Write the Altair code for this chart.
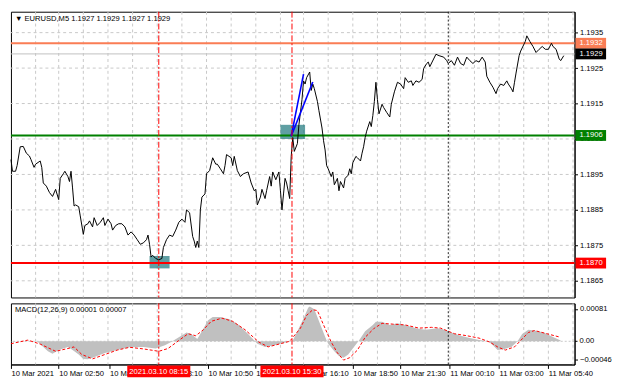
import altair as alt
import pandas as pd

# ---------------- data ----------------
price_bar = [0,1,3,4,6,8,10,12,13,15,16,19,20,21,23,25,27,29,31,32,34,35,37,38,39,40,41,42,44,45,47,48,50,51,53,54,56,58,60,61,63,65,66,68,70,72,74,76,78,80,82,84,86,88,89,90,91,92,94,96,98,99,101,103,105,107,109,111,113,114,116,118,119,120,121,122,123,124,126,127,129,131,133,134,136,138,139,140,143,144,145,147,149,151,154,156,158,159,160,162,163,165,166,168,169,170,172,174,175,176,177,178,179,180,181,182,183,184,186,187,189,190,191,192,194,195,196,197,199,200,202,203,204,205,206,208,209,210,212,213,214,216,217,219,220,221,222,224,225,227,228,229,230,231,233,234,235,236,237,238,239,241,242,244,246,247,249,251,253,255,256,258,260,261,263,265,267,268,270,271,272,276,278,281,283,284,286,288,290,292,294,296,298,300,302,304,306,308,309,311,313,315,316,318,320,322,323,325,326,327,328,330,331,334,335,337,339,341,343,345,347,349,351,352,354,356,357,359]
price_val = [1.18992,1.18959,1.18959,1.18975,1.19028,1.19029,1.19010,1.19002,1.18992,1.18970,1.18979,1.18988,1.18970,1.18926,1.18917,1.18899,1.18888,1.18908,1.18879,1.18939,1.18952,1.18959,1.18944,1.18930,1.18959,1.18912,1.18861,1.18864,1.18859,1.18833,1.18781,1.18806,1.18811,1.18819,1.18802,1.18828,1.18806,1.18815,1.18828,1.18806,1.18824,1.18811,1.18793,1.18806,1.18811,1.18811,1.18802,1.18779,1.18788,1.18779,1.18766,1.18753,1.18757,1.18766,1.18779,1.18753,1.18717,1.18722,1.18713,1.18709,1.18713,1.18744,1.18766,1.18779,1.18775,1.18793,1.18815,1.18824,1.18815,1.18850,1.18842,1.18775,1.18762,1.18744,1.18762,1.18744,1.18850,1.18886,1.18895,1.18952,1.18961,1.18997,1.18979,1.18979,1.18966,1.18952,1.18975,1.19006,1.18997,1.18975,1.19001,1.18961,1.18944,1.18952,1.18957,1.18926,1.18904,1.18908,1.18864,1.18886,1.18908,1.18882,1.18904,1.18944,1.18917,1.18957,1.18935,1.18957,1.18904,1.18850,1.18895,1.18939,1.18926,1.18904,1.18882,1.19001,1.19054,1.19015,1.19037,1.19090,1.19161,1.19214,1.19205,1.19223,1.19239,1.19187,1.19205,1.19192,1.19156,1.19130,1.19081,1.19045,1.19019,1.18975,1.18966,1.18944,1.18957,1.18921,1.18939,1.18904,1.18930,1.18912,1.18939,1.18948,1.18966,1.18952,1.18983,1.19001,1.18997,1.18988,1.19010,1.19028,1.19054,1.19072,1.19099,1.19085,1.19116,1.19156,1.19210,1.19161,1.19121,1.19148,1.19139,1.19125,1.19112,1.19148,1.19183,1.19210,1.19205,1.19192,1.19223,1.19210,1.19214,1.19201,1.19214,1.19210,1.19218,1.19249,1.19263,1.19267,1.19254,1.19289,1.19285,1.19281,1.19271,1.19263,1.19271,1.19258,1.19281,1.19263,1.19258,1.19281,1.19271,1.19263,1.19271,1.19267,1.19281,1.19267,1.19227,1.19210,1.19196,1.19178,1.19192,1.19205,1.19201,1.19214,1.19205,1.19192,1.19183,1.19210,1.19236,1.19285,1.19298,1.19325,1.19341,1.19325,1.19311,1.19294,1.19303,1.19311,1.19303,1.19303,1.19320,1.19311,1.19303,1.19276,1.19271,1.19285]

hist_bar = [0,17,21,24,27,31,37,40,44,47,50,53,61,69,77,86,94,100,104,109,114,117,121,124,128,131,136,142,148,154,160,165,171,177,183,186,190,193,194,197,201,205,206,210,213,216,219,222,226,230,235,237,241,246,251,256,263,269,277,282,286,292,298,304,310,313,316,320,325,329,332,336,340,346,352,357]
hist_val = [0.00001,0.0,-0.00014,-0.00025,-0.00031,-0.00022,-0.00014,-0.00022,-0.00033,-0.00044,-0.00045,-0.00041,-0.00029,-0.00022,-0.00015,-0.00014,-0.00018,-0.00010,-0.00002,0.00010,0.00022,0.00018,0.00006,0.00025,0.00053,0.00061,0.00061,0.00055,0.00041,0.00018,-0.00006,-0.00014,-0.00010,-0.00004,0.00002,0.00025,0.00057,0.00084,0.00087,0.00080,0.00041,0.00002,-0.00006,-0.00025,-0.00037,-0.00041,-0.00033,-0.00018,0.00002,0.00025,0.00041,0.00049,0.00049,0.00041,0.00045,0.00041,0.00033,0.00029,0.00033,0.00029,0.00022,0.00014,0.00008,0.00003,0.0,-0.00010,-0.00022,-0.00020,-0.00014,0.0,0.00018,0.00029,0.00027,0.00022,0.00011,0.00002]

sig_bar = [0,11,19,29,37,41,46,53,61,69,77,86,96,102,109,115,120,125,130,137,144,152,161,167,175,181,188,192,196,199,203,208,212,216,220,225,230,236,241,248,256,265,273,279,288,296,304,311,316,321,327,332,336,340,348,356]
sig_val = [-0.00006,0.00003,-0.00007,-0.00025,-0.00018,-0.00014,-0.00033,-0.00044,-0.00033,-0.00022,-0.00015,-0.00019,-0.00025,-0.00018,0.00002,0.00019,0.00014,0.00029,0.00050,0.00058,0.00050,0.00029,-0.00002,-0.00014,-0.00006,0.0,0.00033,0.00065,0.00079,0.00077,0.00041,-0.00002,-0.00029,-0.00047,-0.00041,-0.00022,0.00010,0.00033,0.00045,0.00043,0.00041,0.00033,0.00035,0.00033,0.00019,0.00014,0.00008,-0.00002,-0.00014,-0.00022,-0.00014,0.00006,0.00022,0.00027,0.00019,0.00011]

tick_bar = [0, 31, 64, 95, 128, 159, 190, 222, 253, 285, 317, 349]
tick_label = ["10 Mar 2021", "10 Mar 02:50", "10 Mar 05:30", "10 Mar 08:10", "10 Mar 10:50",
              "10 Mar 13:30", "10 Mar 16:10", "10 Mar 18:50", "10 Mar 21:30", "11 Mar 00:10",
              "11 Mar 03:00", "11 Mar 05:40"]
grid_bar = [16, 31, 47, 63, 79, 95, 111, 127, 143, 159, 175, 190, 206, 222, 238, 253, 269, 285, 301, 317, 333, 349, 365]
price_ticks = [1.1865, 1.1875, 1.1885, 1.1895, 1.1905, 1.1915, 1.1925, 1.1935]
macd_ticks = [0.00081, -0.00046]
macd_zero = [0.0]
macd_zero_text = ["0.00"]

level_val = [1.1932, 1.1929, 1.1906, 1.1870]
level_text = ["1.1932", "1.1929", "1.1906", "1.1870"]
level_color = ["#fa7d55", "#c0c0c0", "#008000", "#ff0000"]
level_box = ["#fa7d55", "#000000", "#008000", "#ff0000"]
level_width = [2, 1, 2, 2]

marker_bar = [96, 182.5]
marker_text = ["2021.03.10 08:15", "2021.03.10 15:30"]
day_sep_bar = [284]

blue_bar0 = [182, 182]
blue_p0 = [1.19058, 1.19058]
blue_bar1 = [190, 196]
blue_p1 = [1.19233, 1.19211]

box_bar0 = [90, 175]
box_bar1 = [103, 191]
box_p0 = [1.18685, 1.19050]
box_p1 = [1.18720, 1.19090]

symbol = "EURUSD,M5"
ohlc = ["1.1927", "1.1929", "1.1927", "1.1929"]
macd_name = "MACD(12,26,9)"
macd_vals = ["0.00001", "0.00007"]

# ---------------- layout ----------------
W = 572
H1 = 290
H2 = 62
FONT = "Liberation Sans"
FS = 7.7

xs = alt.Scale(domain=[0, 366], nice=False, zero=False)
ys = alt.Scale(domain=[1.18603, 1.19409], nice=False, zero=False)
ms = alt.Scale(domain=[-0.00058, 0.00095], nice=False, zero=False)

price_df = pd.DataFrame({"bar": price_bar, "price": price_val})
hist_df = pd.DataFrame({"bar": hist_bar, "v": hist_val})
sig_df = pd.DataFrame({"bar": sig_bar, "v": sig_val})
grid_df = pd.DataFrame({"bar": grid_bar})
pt_df = pd.DataFrame({"price": price_ticks})
lev_df = pd.DataFrame({"price": level_val, "txt": level_text, "lc": level_color,
                       "bc": level_box, "w": level_width})
mk_df = pd.DataFrame({"bar": marker_bar, "txt": marker_text})
ds_df = pd.DataFrame({"bar": day_sep_bar})
blue_df = pd.DataFrame({"b0": blue_bar0, "p0": blue_p0, "b1": blue_bar1, "p1": blue_p1})
box_df = pd.DataFrame({"b0": box_bar0, "b1": box_bar1, "p0": box_p0, "p1": box_p1})
title_df = pd.DataFrame({"t": ["\u25BC " + symbol + "  " + " ".join(ohlc)]})
mtitle_df = pd.DataFrame({"t": [macd_name + " " + " ".join(macd_vals)]})
zero_df = pd.DataFrame({"v": macd_zero, "t": macd_zero_text})

grid_style = dict(color="#c8c8c8", strokeDash=[3, 3], strokeWidth=1)

yaxis_main = alt.Axis(orient="right", values=price_ticks, format=".4f", grid=False,
                      domainColor="black", tickColor="black", tickSize=3,
                      labelFont=FONT, labelFontSize=FS, labelColor="black",
                      labelPadding=2, labelOverlap=False, zindex=0, title=None)

vgrid = alt.Chart(grid_df).mark_rule(**grid_style).encode(x=alt.X("bar:Q", scale=xs, axis=None))
hgrid = alt.Chart(pt_df).mark_rule(**grid_style).encode(y=alt.Y("price:Q", scale=ys, axis=yaxis_main))
boxes = alt.Chart(box_df).mark_rect(color="#2a7f84", opacity=0.75).encode(
    x="b0:Q", x2="b1:Q", y=alt.Y("p0:Q", scale=ys), y2="p1:Q")
levels = alt.Chart(lev_df).mark_rule().encode(
    y=alt.Y("price:Q", scale=ys),
    color=alt.Color("lc:N", scale=None),
    strokeWidth=alt.StrokeWidth("w:Q", scale=None))
line = alt.Chart(price_df).mark_line(color="black", strokeWidth=1).encode(
    x=alt.X("bar:Q", scale=xs), y=alt.Y("price:Q", scale=ys))
blue = alt.Chart(blue_df).mark_rule(color="#0000ff", strokeWidth=1.6).encode(
    x=alt.X("b0:Q", scale=xs), y=alt.Y("p0:Q", scale=ys), x2="b1:Q", y2="p1:Q")
mk_main = alt.Chart(mk_df).mark_rule(color="#ff0000", strokeDash=[6, 2, 2, 2], strokeWidth=1).encode(
    x=alt.X("bar:Q", scale=xs))
ds_main = alt.Chart(ds_df).mark_rule(color="#222222", strokeDash=[2, 2], strokeWidth=1).encode(
    x=alt.X("bar:Q", scale=xs))
lab_box = alt.Chart(lev_df).mark_rect(yOffset=-5.5, y2Offset=5.5).encode(
    x=alt.value(W + 1), x2=alt.value(W + 32),
    y=alt.Y("price:Q", scale=ys), y2="price:Q",
    color=alt.Color("bc:N", scale=None))
lab_txt = alt.Chart(lev_df).mark_text(font=FONT, fontSize=FS, color="white", align="left",
                                      baseline="middle").encode(
    x=alt.value(W + 5), y=alt.Y("price:Q", scale=ys), text="txt:N")
title = alt.Chart(title_df).mark_text(font=FONT, fontSize=FS, color="black", align="left",
                                      baseline="middle").encode(
    x=alt.value(4), y=alt.value(7), text="t:N")

main = alt.layer(hgrid, vgrid, boxes, levels, line, blue, mk_main, ds_main,
                 lab_box, lab_txt, title).properties(width=W, height=H1)

xlabel_expr = "".join(f"datum.value == {b} ? '{l}' : " for b, l in zip(tick_bar, tick_label)) + "''"
xaxis = alt.Axis(values=tick_bar, labelExpr=xlabel_expr, grid=False, domainColor="black",
                 tickColor="black", tickSize=4, labelFont=FONT, labelFontSize=FS,
                 labelColor="black", labelAlign="left", labelFlush=False, labelPadding=1,
                 labelOverlap=False, zindex=0, title=None)
yaxis_macd = alt.Axis(orient="right", values=macd_ticks, format=".5f",
                      grid=False, domainColor="black", tickColor="black", tickSize=3,
                      labelFont=FONT, labelFontSize=FS, labelColor="black", labelPadding=2,
                      labelOverlap=False, labelFlush=False, zindex=0, title=None)

m_vgrid = alt.Chart(grid_df).mark_rule(**grid_style).encode(x=alt.X("bar:Q", scale=xs, axis=xaxis))
m_zero = alt.Chart(zero_df).mark_rule(color="#c8c8c8", strokeDash=[2, 2]).encode(
    y=alt.Y("v:Q", scale=ms, axis=yaxis_macd))
m_zero_tick = alt.Chart(zero_df).mark_rule(color="black").encode(
    y=alt.Y("v:Q", scale=ms), x=alt.value(W), x2=alt.value(W + 3))
m_zero_lab = alt.Chart(zero_df).mark_text(font=FONT, fontSize=FS, color="black", align="left",
                                          baseline="middle").encode(
    y=alt.Y("v:Q", scale=ms), x=alt.value(W + 5), text="t:N")
m_hist = alt.Chart(hist_df).mark_area(color="#c0c0c0", opacity=1).encode(
    x=alt.X("bar:Q", scale=xs), y=alt.Y("v:Q", scale=ms), y2=alt.datum(0))
m_sig = alt.Chart(sig_df).mark_line(color="#ff0000", strokeDash=[3, 2], strokeWidth=1).encode(
    x=alt.X("bar:Q", scale=xs), y=alt.Y("v:Q", scale=ms))
mk_macd = alt.Chart(mk_df).mark_rule(color="#ff0000", strokeDash=[6, 2, 2, 2], strokeWidth=1).encode(
    x=alt.X("bar:Q", scale=xs))
ds_macd = alt.Chart(ds_df).mark_rule(color="#222222", strokeDash=[2, 2], strokeWidth=1).encode(
    x=alt.X("bar:Q", scale=xs))
m_title = alt.Chart(mtitle_df).mark_text(font=FONT, fontSize=FS, color="black", align="left",
                                         baseline="middle").encode(
    x=alt.value(4), y=alt.value(7), text="t:N")
mk_box = alt.Chart(mk_df).mark_rect(color="#ff0000", xOffset=-32, x2Offset=32).encode(
    x=alt.X("bar:Q", scale=xs), x2="bar:Q", y=alt.value(H2 + 1), y2=alt.value(H2 + 13))
mk_txt = alt.Chart(mk_df).mark_text(font=FONT, fontSize=FS, color="white", align="center",
                                    baseline="middle").encode(
    x=alt.X("bar:Q", scale=xs), y=alt.value(H2 + 7.5), text="txt:N")

macd = alt.layer(m_vgrid, m_zero, m_hist, m_sig, mk_macd, ds_macd, m_title,
                 m_zero_tick, m_zero_lab, mk_box, mk_txt).properties(width=W, height=H2)

chart = alt.vconcat(main, macd, spacing=4).properties(padding=0, background="white").configure_view(
    stroke="black", strokeWidth=1)

chart.save("out.html", embed_options={"renderer": "svg", "actions": False})
